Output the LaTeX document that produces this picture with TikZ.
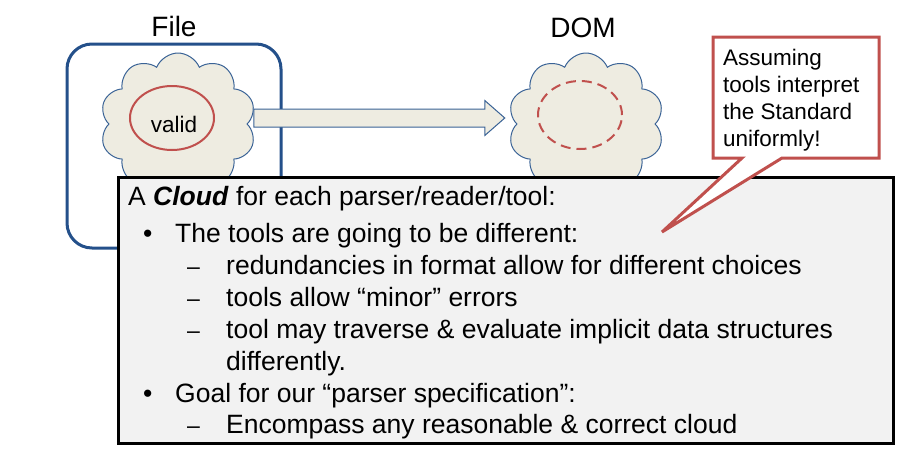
\documentclass[tikz,border=0pt]{standalone}
\usepackage{fontspec}
\setmainfont{Liberation Sans}
\usetikzlibrary{shapes.symbols,shapes.geometric}
\definecolor{cloudfill}{HTML}{EEECE1}
\definecolor{cloudline}{HTML}{3A6396}
\definecolor{frameblue}{HTML}{24508A}
\definecolor{callred}{HTML}{C0504D}
\definecolor{boxgray}{HTML}{F2F2F2}
\tikzset{
    cloudy/.style={cloud, cloud puffs=10, cloud puff arc=135, draw=cloudline, fill=cloudfill, line width=1pt, minimum width=156pt, minimum height=142pt, inner sep=0pt},
    ring/.style={ellipse, draw=callred, line width=2pt, minimum width=84pt, minimum height=64pt, inner sep=0pt},
    blockarrow/.style={draw=cloudline, fill=cloudfill, line width=1pt},
    title/.style={font=\fontsize{28}{30}\selectfont, anchor=base, inner sep=0pt},
    txt/.style={font=\fontsize{26.5}{30}\selectfont, anchor=base west, inner sep=0pt},
    dashmark/.style={font=\fontsize{23}{25}\selectfont, anchor=base west, inner sep=0pt},
    small/.style={font=\fontsize{22.5}{26}\selectfont, anchor=base west, inner sep=0pt},
}
\begin{document}
\begin{tikzpicture}[x=1pt,y=-1pt]
    \useasboundingbox (0,0) rectangle (907,448);
    % file frame, clouds and the conversion arrow
    \draw[frameblue, line width=3pt, rounded corners=25pt] (67,44) rectangle (281,248);
    \node[cloudy] (fcloud) at (178,124) {};
    \node[cloudy] (dcloud) at (586,124) {};
    \node[ring] (valid) at (172,118) {};
    \node[ring, dashed, dash pattern=on 10pt off 6pt, minimum height=68pt] (dvalid) at (580,115) {};
    \node[small, anchor=base] (vtext) at (174,132.5) {valid};
    \coordinate (conv) at (fcloud.east |- valid.center);
    \draw[blockarrow] (conv) ++(6,-9) -- ++(231,0) -- ++(0,-8.5) -- ++(20,17.5) -- ++(-20,17.5) -- ++(0,-8.5) -- ++(-231,0) -- cycle;
    \node[title] (file) at (174,36.7) {File};
    \node[title] (dom) at (583,37) {DOM};
    % the text box
    \node[draw=black, fill=boxgray, line width=3pt, minimum width=775pt, minimum height=266pt, inner sep=0pt] (notes) at (506,310) {};
    \node[txt] (l1) at (128,205) {A \textbf{\textit{Cloud}} for each parser/reader/tool:};
    \node[txt] (b1) at (143,242) {•};
    \node[txt] (l2) at (175,242) {The tools are going to be different:};
    \node[dashmark] (d1) at (187,274) {–};
    \node[txt] (l3) at (226,274) {redundancies in format allow for different choices};
    \node[dashmark] (d2) at (187,306) {–};
    \node[txt] (l4) at (226,306) {tools allow “minor” errors};
    \node[dashmark] (d3) at (187,338) {–};
    \node[txt] (l5) at (226,338) {tool may traverse \& evaluate implicit data structures};
    \node[txt] (l6) at (226,370) {differently.};
    \node[txt] (b2) at (143,402) {•};
    \node[txt] (l7) at (175,402) {Goal for our “parser specification”:};
    \node[dashmark] (d4) at (187,433) {–};
    \node[txt] (l8) at (226,433) {Encompass any reasonable \& correct cloud};
    % callout
    \coordinate (tip) at (662,232);
    \draw[callred, fill=white, line width=3pt] (713,37) -- (879,37) -- (879,158) -- (782,158) -- (tip) -- (742,158) -- (713,158) -- cycle;
    \node[small] (n1) at (723,65.7) {Assuming};
    \node[small] (n2) at (723,92.5) {tools interpret};
    \node[small] (n3) at (723,119.5) {the Standard};
    \node[small] (n4) at (723,146.5) {uniformly!};
\end{tikzpicture}
\end{document}
